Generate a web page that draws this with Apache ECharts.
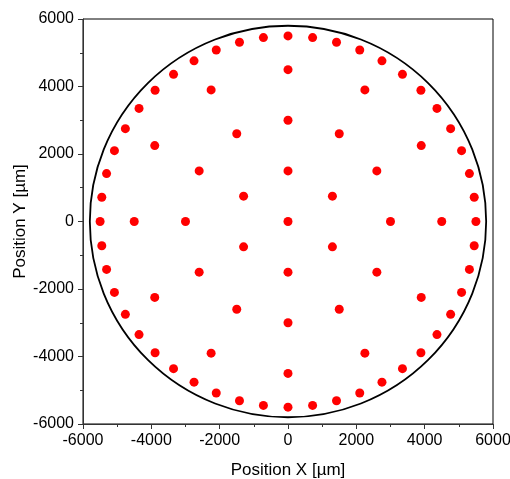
<!DOCTYPE html>
<html>
<head>
<meta charset="utf-8">
<script src="https://cdn.jsdelivr.net/npm/echarts@6/dist/echarts.min.js"></script>
<style>html,body{margin:0;padding:0;background:#fff}#c{width:510px;height:479px}</style>
</head>
<body>
<div id="c"></div>
<script>
// Data (µm)
var ringCenter = [[0, 0]];
var ring1500 = [[0,1500],[1300,750],[1300,-750],[0,-1500],[-1300,-750],[-1300,750]];
var ring3000 = [[3000,0],[2600,1500],[1500,2600],[0,3000],[-1500,2600],[-2600,1500],
                [-3000,0],[-2600,-1500],[-1500,-2600],[0,-3000],[1500,-2600],[2600,-1500]];
var ring4500 = [[4500,0],[3900,2250],[2250,3900],[0,4500],[-2250,3900],[-3900,2250],
                [-4500,0],[-3900,-2250],[-2250,-3900],[0,-4500],[2250,-3900],[3900,-2250]];
var ring5500 = [
  [5500,0],[5450,720],[5310,1420],[5080,2100],[4760,2750],[4360,3350],[3890,3890],[3350,4360],[2750,4760],[2100,5080],[1420,5310],[720,5450],
  [0,5500],[-720,5450],[-1420,5310],[-2100,5080],[-2750,4760],[-3350,4360],[-3890,3890],[-4360,3350],[-4760,2750],[-5080,2100],[-5310,1420],[-5450,720],
  [-5500,0],[-5450,-720],[-5310,-1420],[-5080,-2100],[-4760,-2750],[-4360,-3350],[-3890,-3890],[-3350,-4360],[-2750,-4760],[-2100,-5080],[-1420,-5310],[-720,-5450],
  [0,-5500],[720,-5450],[1420,-5310],[2100,-5080],[2750,-4760],[3350,-4360],[3890,-3890],[4360,-3350],[4760,-2750],[5080,-2100],[5310,-1420],[5450,-720]
];
var waferCircle = [[0, 0, 5800]]; // centre x, centre y, radius
var axisMin = -6000, axisMax = 6000, axisStep = 2000;
var xName = 'Position X [µm]';
var yName = 'Position Y [µm]';

var points = [].concat(ringCenter, ring1500, ring3000, ring4500, ring5500);
var font = 'Liberation Sans, Arial, sans-serif';

var chart = echarts.init(document.getElementById('c'));
function axis(name, gap) {
  return {
    type: 'value', min: axisMin, max: axisMax, interval: axisStep,
    name: name, nameLocation: 'middle', nameGap: gap, nameMoveOverlap: false,
    nameTextStyle: { fontFamily: font, fontSize: 17, color: '#000' },
    axisLine: { show: true, onZero: false, lineStyle: { color: '#333', width: 1 } },
    axisTick: { show: true, inside: false, length: 5, lineStyle: { color: '#333' } },
    minorTick: { show: true, splitNumber: 2, length: 3, lineStyle: { color: '#333' } },
    axisLabel: { fontFamily: font, fontSize: 16, color: '#000', margin: 9,
                 formatter: function (v) { return String(v); } },
    splitLine: { show: false }
  };
}
chart.setOption({
  animation: false,
  grid: { left: 83, right: 17, top: 19, bottom: 55, containLabel: false, outerBoundsMode: 'none',
          show: true, borderColor: '#000', borderWidth: 1, backgroundColor: 'transparent' },
  xAxis: axis(xName, 38),
  yAxis: axis(yName, 54),
  series: [
    {
      type: 'custom',
      data: waferCircle,
      silent: true,
      z: 1,
      renderItem: function (params, api) {
        var c = api.coord([api.value(0), api.value(1)]);
        var ex = api.coord([api.value(0) + api.value(2), api.value(1)]);
        var ey = api.coord([api.value(0), api.value(1) + api.value(2)]);
        var rx = Math.abs(ex[0] - c[0]);
        var ry = Math.abs(c[1] - ey[1]);
        var d = 'M' + (c[0] - rx) + ' ' + c[1] +
                ' A' + rx + ' ' + ry + ' 0 1 0 ' + (c[0] + rx) + ' ' + c[1] +
                ' A' + rx + ' ' + ry + ' 0 1 0 ' + (c[0] - rx) + ' ' + c[1] + ' Z';
        return {
          type: 'path',
          shape: { pathData: d },
          style: { fill: 'none', stroke: '#000', lineWidth: 1.8 }
        };
      }
    },
    {
      type: 'scatter',
      data: points,
      symbol: 'circle',
      symbolSize: 9,
      z: 2,
      itemStyle: { color: '#ff0000', opacity: 1 }
    }
  ]
});
</script>
</body>
</html>
